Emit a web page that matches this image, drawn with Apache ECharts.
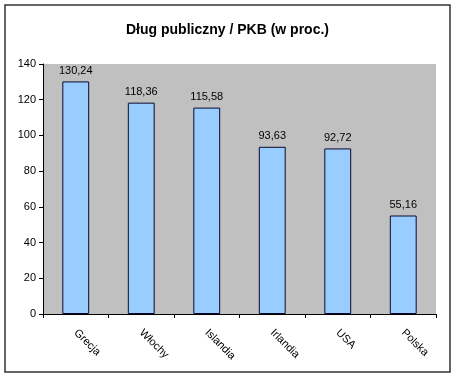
<!DOCTYPE html>
<html>
<head>
<meta charset="utf-8">
<script src="https://cdn.jsdelivr.net/npm/echarts@6/dist/echarts.min.js"></script>
<style>
  html, body { margin: 0; padding: 0; background: #fff; }
  #chart { width: 455px; height: 377px; }
</style>
</head>
<body>
<div id="chart"></div>
<script>
// dane
const kraje = ['Grecja', 'Włochy', 'Islandia', 'Irlandia', 'USA', 'Polska'];
const dlug = [130.24, 118.36, 115.58, 93.63, 92.72, 55.16];
const osY = [0, 20, 40, 60, 80, 100, 120, 140];

const wykres = echarts.init(document.getElementById('chart'));

const option = {
  animation: false,
  backgroundColor: '#ffffff',
  textStyle: { fontFamily: 'Liberation Sans, Arial, sans-serif' },
  title: {
    text: 'Dług publiczny / PKB (w proc.)',
    left: 'center',
    top: 18,
    textStyle: { fontSize: 14, fontWeight: 'bold', color: '#000', fontFamily: 'Liberation Sans, Arial, sans-serif' }
  },
  graphic: [{
    type: 'rect',
    shape: { x: 5, y: 5, width: 445, height: 367 },
    style: { fill: 'none', stroke: '#333', lineWidth: 1.5 },
    silent: true
  }],
  grid: {
    left: 43, right: 19, top: 64, bottom: 63,
    show: true, backgroundColor: '#c0c0c0', borderWidth: 0
  },
  xAxis: {
    type: 'category',
    data: kraje,
    axisLine: { lineStyle: { color: '#000', width: 1 } },
    axisTick: { show: true, length: 4, lineStyle: { color: '#000' } },
    axisLabel: { rotate: -45, color: '#000', fontSize: 11, margin: 17 }
  },
  yAxis: {
    type: 'value',
    min: osY[0],
    max: osY[osY.length - 1],
    interval: 20,
    axisLine: { show: true, lineStyle: { color: '#000', width: 1 } },
    axisTick: { show: true, length: 4, lineStyle: { color: '#000' } },
    splitLine: { show: false },
    axisLabel: { color: '#000', fontSize: 11, margin: 7 }
  },
  series: [{
    type: 'bar',
    data: dlug,
    barWidth: '41%',
    itemStyle: { color: '#99ccff', borderColor: '#0a0a30', borderWidth: 1 },
    label: {
      show: true,
      position: 'top',
      distance: 5,
      color: '#000',
      fontSize: 11,
      formatter: p => p.value.toFixed(2).replace('.', ',')
    }
  }]
};

wykres.setOption(option);
</script>
</body>
</html>
